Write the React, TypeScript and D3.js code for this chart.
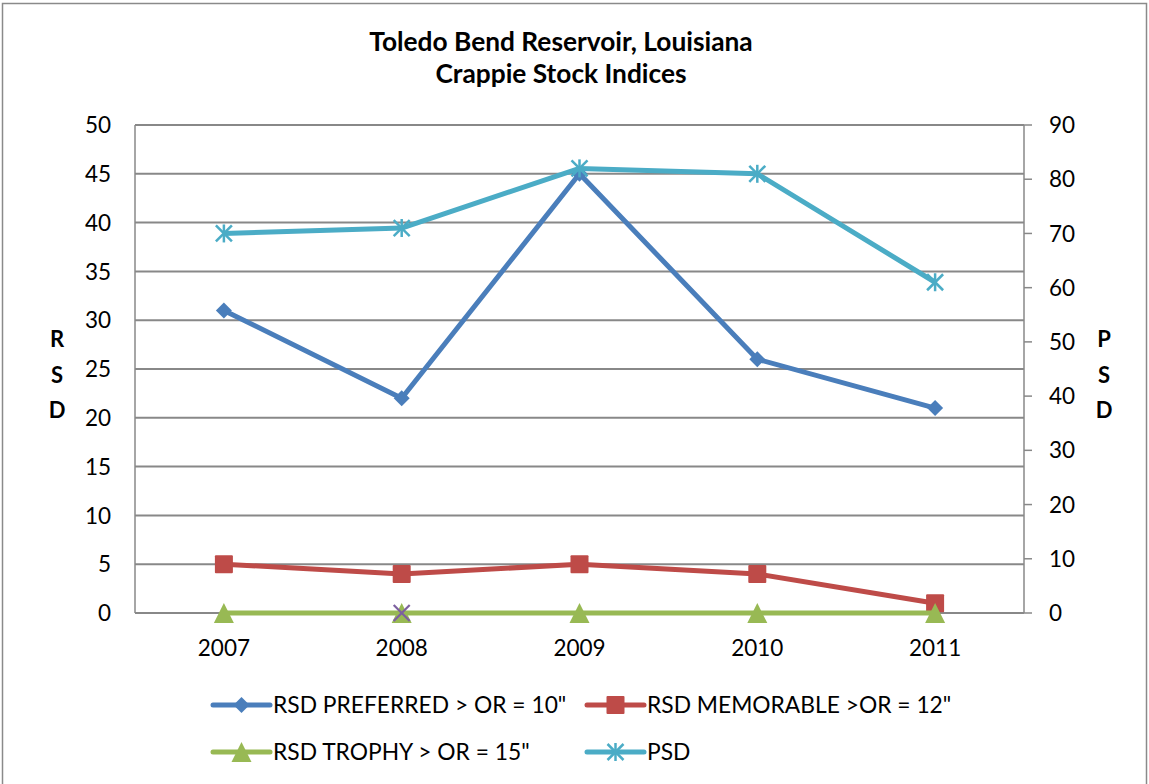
import React from "react";
import * as d3 from "d3";

const years = ["2007", "2008", "2009", "2010", "2011"];
const rsdPreferred = [31, 22, 45, 26, 21];
const rsdMemorable = [5, 4, 5, 4, 1];
const rsdTrophy = [0, 0, 0, 0, 0];
const psd = [70, 71, 82, 81, 61];
const extraSeries: (number | null)[] = [null, 0, null, null, null];
const leftTicks = [0, 5, 10, 15, 20, 25, 30, 35, 40, 45, 50];
const rightTicks = [0, 10, 20, 30, 40, 50, 60, 70, 80, 90];
const legendLabels = [
  'RSD PREFERRED > OR = 10"',
  'RSD MEMORABLE >OR = 12"',
  'RSD TROPHY > OR = 15"',
  "PSD",
];

const W = 1149;
const H = 784;
const FONT = "Lato, 'Open Sans', sans-serif";
const plot = { left: 135, right: 1024, top: 125, bottom: 613 };

const C = {
  blue: "#4A7EBB",
  red: "#BE4B48",
  green: "#98B954",
  cyan: "#4BACC6",
  purple: "#7D60A0",
  grid: "#888888",
};

function Marker({ type, x, y, color }: { type: string; x: number; y: number; color: string }) {
  if (type === "diamond") {
    const s = 8;
    return <path d={`M${x},${y - s}L${x + s},${y}L${x},${y + s}L${x - s},${y}Z`} fill={color} />;
  }
  if (type === "square") {
    const s = 9;
    return <rect x={x - s} y={y - s} width={2 * s} height={2 * s} fill={color} rx={1} />;
  }
  if (type === "triangle") {
    const s = 10;
    return <path d={`M${x},${y - s}L${x + s},${y + s}L${x - s},${y + s}Z`} fill={color} />;
  }
  if (type === "star") {
    const s = 8;
    return (
      <g stroke={color} strokeWidth={2.5}>
        <line x1={x - s} y1={y - s} x2={x + s} y2={y + s} />
        <line x1={x - s} y1={y + s} x2={x + s} y2={y - s} />
        <line x1={x} y1={y - s - 1} x2={x} y2={y + s + 1} />
      </g>
    );
  }
  if (type === "x") {
    const s = 8;
    return (
      <g stroke={color} strokeWidth={2.2}>
        <line x1={x - s} y1={y - s} x2={x + s} y2={y + s} />
        <line x1={x - s} y1={y + s} x2={x + s} y2={y - s} />
      </g>
    );
  }
  return null;
}

export default function App() {
  const x = d3.scaleBand<string>().domain(years).range([plot.left, plot.right]);
  const cx = (d: string) => (x(d) ?? 0) + x.bandwidth() / 2;
  const yL = d3.scaleLinear().domain([0, 50]).range([plot.bottom, plot.top]);
  const yR = d3.scaleLinear().domain([0, 90]).range([plot.bottom, plot.top]);

  const lineL = d3
    .line<number>()
    .x((_, i) => cx(years[i]))
    .y((d) => yL(d));
  const lineR = d3
    .line<number>()
    .x((_, i) => cx(years[i]))
    .y((d) => yR(d));

  const series = [
    { data: rsdPreferred, color: C.blue, marker: "diamond", scale: yL, line: lineL },
    { data: rsdMemorable, color: C.red, marker: "square", scale: yL, line: lineL },
    { data: rsdTrophy, color: C.green, marker: "triangle", scale: yL, line: lineL },
    { data: psd, color: C.cyan, marker: "star", scale: yR, line: lineR },
  ];

  const legendPos = [
    { x: 213, y: 705 },
    { x: 587, y: 705 },
    { x: 213, y: 752 },
    { x: 587, y: 752 },
  ];

  return (
    <svg width={W} height={H} style={{ position: "absolute", left: 0, top: 0, display: "block" }}>
      <rect x={0} y={0} width={W} height={H} fill="#fff" />
      <rect x={2.5} y={3.5} width={1144} height={800} fill="none" stroke="#8a8a8a" strokeWidth={1.5} />

      <text x={561} y={51} textAnchor="middle" fontFamily={FONT} fontWeight="bold" fontSize={26.3} fill="#000">
        Toledo Bend Reservoir, Louisiana
      </text>
      <text x={561} y={83} textAnchor="middle" fontFamily={FONT} fontWeight="bold" fontSize={26.3} fill="#000">
        Crappie Stock Indices
      </text>

      {/* gridlines */}
      {leftTicks.map((t) => (
        <line key={"g" + t} x1={plot.left} x2={plot.right} y1={yL(t)} y2={yL(t)} stroke={C.grid} strokeWidth={2} />
      ))}
      {/* left axis */}
      <line x1={plot.left} x2={plot.left} y1={plot.top} y2={plot.bottom} stroke={C.grid} strokeWidth={1.5} />
      {leftTicks.map((t) => (
        <text key={"l" + t} x={111} y={yL(t)} dy="0.36em" textAnchor="end" fontFamily={FONT} fontSize={22.5} fill="#000">
          {t}
        </text>
      ))}
      {/* right axis */}
      <line x1={plot.right} x2={plot.right} y1={plot.top} y2={plot.bottom} stroke={C.grid} strokeWidth={1.5} />
      {rightTicks.map((t) => (
        <g key={"r" + t}>
          <line x1={plot.right} x2={plot.right + 8} y1={yR(t)} y2={yR(t)} stroke={C.grid} strokeWidth={1.5} />
          <text x={1049} y={yR(t)} dy="0.36em" textAnchor="start" fontFamily={FONT} fontSize={22.5} fill="#000">
            {t}
          </text>
        </g>
      ))}
      {/* x axis */}
      <line x1={plot.left} x2={plot.right} y1={plot.bottom} y2={plot.bottom} stroke={C.grid} strokeWidth={1.5} />
      {years.map((yv) => (
        <text key={yv} x={cx(yv)} y={656} textAnchor="middle" fontFamily={FONT} fontSize={22.5} fill="#000">
          {yv}
        </text>
      ))}

      {/* axis titles */}
      {["R", "S", "D"].map((c, i) => (
        <text key={"lt" + c} x={57} y={347 + i * 35.5} textAnchor="middle" fontFamily={FONT} fontWeight="bold" fontSize={22} fill="#000">
          {c}
        </text>
      ))}
      {["P", "S", "D"].map((c, i) => (
        <text key={"rt" + c} x={1104} y={347 + i * 35.5} textAnchor="middle" fontFamily={FONT} fontWeight="bold" fontSize={22} fill="#000">
          {c}
        </text>
      ))}

      {/* series */}
      {series.map((s, si) => (
        <g key={"s" + si}>
          <path d={s.line(s.data) ?? ""} fill="none" stroke={s.color} strokeWidth={5} strokeLinejoin="round" />
          {s.data.map((d, i) => (
            <Marker key={i} type={s.marker} x={cx(years[i])} y={s.scale(d)} color={s.color} />
          ))}
        </g>
      ))}
      {extraSeries.map((d, i) =>
        d === null ? null : <Marker key={"e" + i} type="x" x={cx(years[i])} y={yL(d)} color={C.purple} />
      )}

      {/* legend */}
      {series.map((s, i) => {
        const p = legendPos[i];
        return (
          <g key={"lg" + i}>
            <line x1={p.x} x2={p.x + 57} y1={p.y} y2={p.y} stroke={s.color} strokeWidth={5} strokeLinecap="round" />
            <Marker type={s.marker} x={p.x + 28.5} y={p.y} color={s.color} />
            <text x={p.x + 60} y={p.y} dy="0.36em" fontFamily={FONT} fontSize={22.8} fill="#000">
              {legendLabels[i]}
            </text>
          </g>
        );
      })}
    </svg>
  );
}
